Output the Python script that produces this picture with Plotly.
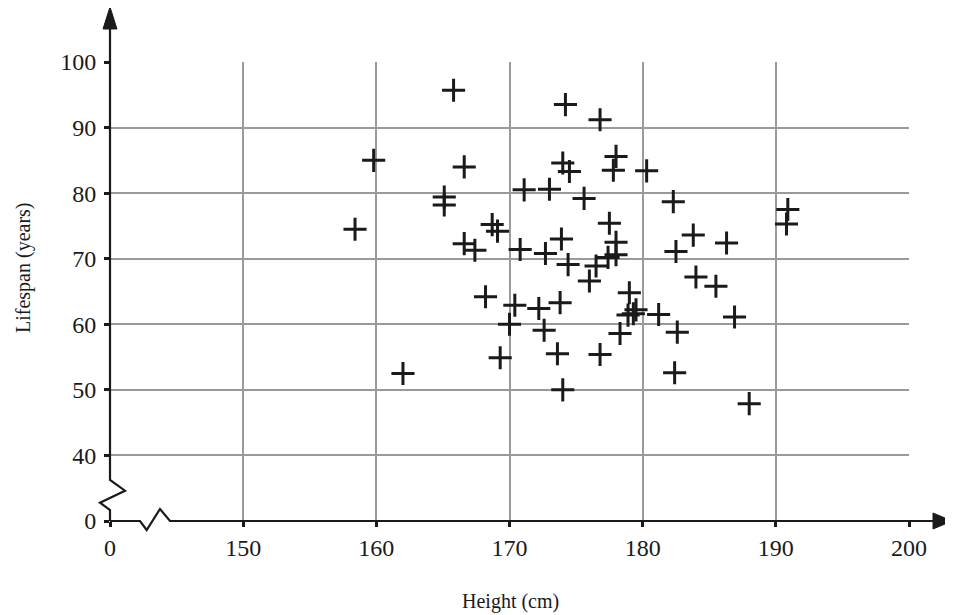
import plotly.graph_objects as go

heights = [165.8, 159.8, 166.6, 165.1, 165.1, 158.4, 168.7, 169.1, 166.6, 167.4,
           162.0, 168.2, 169.3, 170.4, 170.0, 170.8, 171.1, 173.0, 172.7, 172.2,
           172.6, 173.6, 174.0, 173.8, 173.9, 174.4, 174.2, 174.0, 174.5, 175.6,
           176.8, 176.5, 176.0, 176.8, 177.5, 178.0, 177.4, 178.0, 178.0, 177.8,
           180.3, 179.0, 178.9, 179.3, 179.5, 181.2, 178.3, 182.3, 182.5, 182.6,
           182.4, 183.8, 184.0, 185.5, 186.3, 186.9, 188.0, 190.9, 190.8]
lifespans = [95.7, 85.0, 84.0, 79.4, 78.2, 74.5, 75.2, 74.2, 72.3, 71.3,
             52.5, 64.2, 54.9, 62.9, 60.0, 71.4, 80.5, 80.6, 70.8, 62.4,
             59.1, 55.5, 50.0, 63.3, 73.0, 69.1, 93.5, 84.6, 83.3, 79.2,
             91.2, 68.9, 66.6, 55.4, 75.4, 72.5, 70.2, 70.6, 85.6, 83.5,
             83.4, 64.8, 61.4, 61.6, 62.2, 61.5, 58.6, 78.7, 71.1, 58.8,
             52.6, 73.6, 67.2, 65.8, 72.4, 61.1, 47.9, 77.5, 75.3]

x_tickvals = [140, 150, 160, 170, 180, 190, 200]
x_ticktext = ["0", "150", "160", "170", "180", "190", "200"]
y_tickvals = [30, 40, 50, 60, 70, 80, 90, 100]
y_ticktext = ["0", "40", "50", "60", "70", "80", "90", "100"]

# page offset (browser body margin) compensation
OFF = 8
W, H = 953 - OFF, 615 - OFF
L, R, T, B = 110 - OFF, 44, 62 - OFF, 94
PW, PH = W - L - R, H - T - B

def px(x):
    return (x - OFF - L) / PW

def py(y):
    return (H - B - (y - OFF)) / PH

def path(points, close=False):
    s = "M " + " L ".join(f"{px(a):.5f},{py(b):.5f}" for a, b in points)
    return s + (" Z" if close else "")

font = "Liberation Serif, Times New Roman, serif"
ink = "#1a1a1a"

fig = go.Figure()
fig.add_trace(go.Scatter(
    x=heights, y=lifespans, mode="markers",
    marker=dict(symbol="cross-thin", size=16.5, line=dict(width=3, color=ink), color=ink),
    cliponaxis=False, showlegend=False, hoverinfo="x+y"))

shapes = [
    dict(type="path", xref="paper", yref="paper",
         path=path([(110, 26), (110, 480), (125, 490.7), (100, 502.7), (110, 510), (110, 521)]),
         line=dict(color=ink, width=2.2)),
    dict(type="path", xref="paper", yref="paper",
         path=path([(110, 521), (140, 521), (146.7, 530), (160, 509), (170, 521), (938, 521)]),
         line=dict(color=ink, width=2.2)),
    dict(type="path", xref="paper", yref="paper",
         path=path([(110, 7), (103, 29), (117, 29)], close=True),
         fillcolor=ink, line=dict(color=ink, width=1)),
    dict(type="path", xref="paper", yref="paper",
         path=path([(952, 521), (933, 513), (933, 529)], close=True),
         fillcolor=ink, line=dict(color=ink, width=1)),
]

axis_common = dict(
    showgrid=True, gridcolor="#9a9a9a", gridwidth=1.8,
    showline=False, zeroline=False, ticks="outside", ticklen=5, tickwidth=2.5,
    tickcolor=ink, tickfont=dict(family=font, size=24, color=ink), fixedrange=True,
)

fig.update_layout(
    width=W, height=H,
    margin=dict(l=L, r=R, t=T, b=B),
    plot_bgcolor="white", paper_bgcolor="white",
    xaxis=dict(range=[140, 200], tickvals=x_tickvals, ticktext=x_ticktext, **axis_common),
    yaxis=dict(range=[30, 100], tickvals=y_tickvals, ticktext=y_ticktext,
               ticklabelstandoff=3, **axis_common),
    shapes=shapes,
    annotations=[
        dict(text="Lifespan (years)", xref="paper", yref="paper", x=px(23), y=py(268),
             textangle=-90, showarrow=False, font=dict(family=font, size=20, color=ink),
             xanchor="center", yanchor="middle"),
        dict(text="Height (cm)", xref="paper", yref="paper", x=px(510), y=py(601),
             showarrow=False, font=dict(family=font, size=20, color=ink),
             xanchor="center", yanchor="middle"),
    ],
)

fig.write_html("out.html")
